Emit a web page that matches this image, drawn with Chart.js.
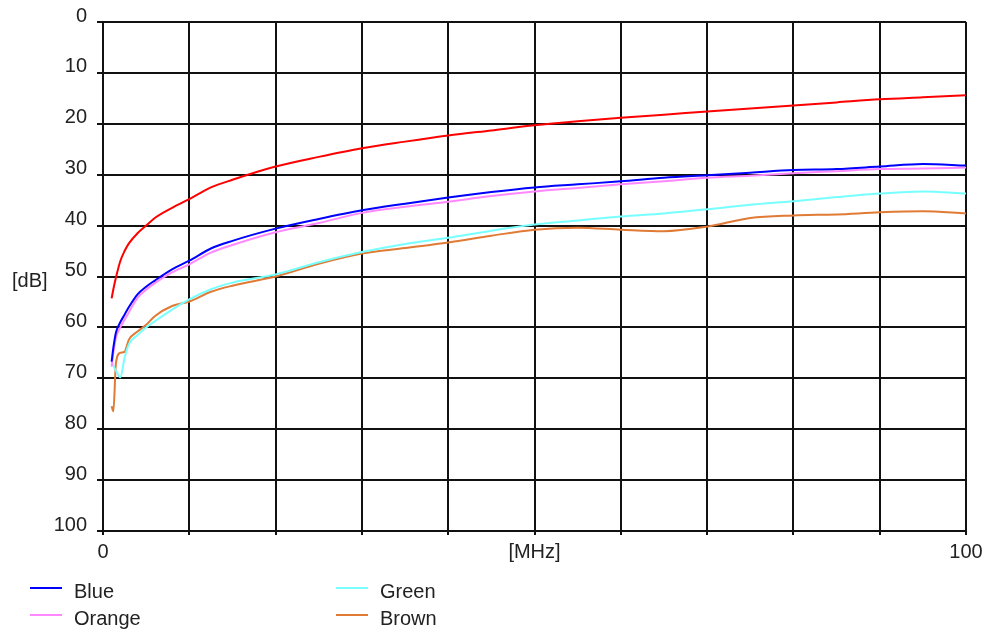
<!DOCTYPE html>
<html lang="en">
  <head>
    <meta charset="UTF-8" />
    <title>Attenuation [dB] vs [MHz]</title>
    <script src="https://cdn.jsdelivr.net/npm/chart.js"></script>
    <style>
      html, body { margin: 0; padding: 0; background: #fff; }
      #wrap { width: 998px; height: 637px; }
    </style>
  </head>
  <body>
    <div id="wrap"><canvas id="myChart"></canvas></div>

    <script>
      // frequency points in MHz
      const freq = [1, 1.2, 1.5, 2, 2.5, 3, 4, 5, 6, 8, 10, 12.5, 15, 20, 25, 30, 35, 40, 45, 50, 55, 60, 65, 70, 75, 80, 85, 90, 95, 100];

      // values in dB
      const red    = [54.3, 52.5, 50.2, 47.0, 45.0, 43.5, 41.5, 40.0, 38.5, 36.5, 34.8, 32.5, 31.0, 28.4, 26.5, 24.8, 23.5, 22.3, 21.3, 20.3, 19.5, 18.8, 18.2, 17.6, 17.0, 16.4, 15.8, 15.2, 14.8, 14.4];
      const blue   = [66.7, 64.0, 61.0, 59.0, 57.5, 56.0, 53.5, 52.0, 50.8, 48.6, 46.9, 44.5, 43.0, 40.6, 38.7, 37.0, 35.7, 34.5, 33.4, 32.5, 31.9, 31.3, 30.6, 30.1, 29.6, 29.1, 28.9, 28.4, 27.9, 28.2];
      const orange = [67.7, 65.0, 62.0, 60.0, 58.5, 57.0, 54.2, 52.6, 51.3, 49.2, 47.6, 45.3, 43.8, 41.3, 39.5, 37.5, 36.3, 35.3, 34.2, 33.3, 32.6, 31.9, 31.3, 30.6, 30.2, 29.7, 29.3, 28.9, 28.8, 28.6];
      const green  = [66.5, 67.5, 68.5, 69.8, 66.0, 63.3, 61.5, 60.0, 58.8, 56.5, 54.5, 52.5, 51.2, 49.6, 47.2, 45.2, 43.6, 42.4, 41.0, 39.8, 39.0, 38.2, 37.6, 36.8, 35.9, 35.2, 34.4, 33.7, 33.3, 33.7];
      const brown  = [75.5, 76.5, 67.0, 65.0, 64.8, 62.4, 60.8, 59.5, 57.8, 55.8, 54.9, 53.0, 51.8, 50.0, 47.5, 45.5, 44.4, 43.3, 42.0, 40.8, 40.4, 40.8, 41.1, 40.2, 38.5, 38.0, 37.8, 37.4, 37.2, 37.6];

      const xTickText = { 0: "0", 50: "[MHz]", 100: "100" };
      const FONT = "Liberation Sans, Arial, sans-serif";

      function pts(arr) {
        return freq.map((f, i) => ({ x: f, y: arr[i] }));
      }

      function series(label, values, color) {
        return {
          label: label,
          data: pts(values),
          borderColor: color,
          backgroundColor: color,
          borderWidth: 2,
          pointRadius: 0,
          cubicInterpolationMode: "monotone",
          fill: false,
        };
      }

      // legend in two columns, bottom left; plus the [dB] axis caption
      const extras = {
        id: "extras",
        afterDraw(chart) {
          const ctx = chart.ctx;
          ctx.save();
          ctx.font = "20px " + FONT;
          ctx.fillStyle = "#222";
          ctx.textBaseline = "middle";
          ctx.textAlign = "left";
          ctx.fillText("[dB]", 12, 281);

          const items = [
            { i: 1, x: 30, y: 588 },
            { i: 2, x: 30, y: 615 },
            { i: 3, x: 336, y: 588 },
            { i: 4, x: 336, y: 615 },
          ];
          items.forEach((it) => {
            const ds = chart.data.datasets[it.i];
            ctx.strokeStyle = ds.borderColor;
            ctx.lineWidth = 2;
            ctx.beginPath();
            ctx.moveTo(it.x, it.y);
            ctx.lineTo(it.x + 32, it.y);
            ctx.stroke();
            ctx.fillStyle = "#222";
            ctx.fillText(ds.label, it.x + 44, it.y + 4);
          });
          ctx.restore();
        },
      };

      const ctx = document.getElementById("myChart").getContext("2d");
      const myChart = new Chart(ctx, {
        type: "line",
        data: {
          datasets: [
            series("", red, "#ff0000"),
            series("Blue", blue, "#0000ff"),
            series("Orange", orange, "#ff88ff"),
            series("Green", green, "#77ffff"),
            series("Brown", brown, "#e07a35"),
          ],
        },
        options: {
          responsive: true,
          maintainAspectRatio: false,
          animation: false,
          layout: { padding: { left: 0, top: 22, right: 32, bottom: 66 } },
          plugins: {
            legend: { display: false },
            tooltip: { enabled: false },
          },
          scales: {
            x: {
              type: "linear",
              min: 0,
              max: 100,
              ticks: {
                stepSize: 10,
                autoSkip: false,
                maxRotation: 0,
                padding: 5,
                color: "#222",
                font: { family: FONT, size: 20 },
                callback: (v) => (xTickText[v] !== undefined ? xTickText[v] : ""),
              },
              grid: { color: "#111", lineWidth: 2, tickLength: 4 },
              border: { color: "#111", width: 2 },
              afterFit: (s) => { s.height = 40; },
            },
            y: {
              min: 0,
              max: 100,
              reverse: true,
              ticks: {
                stepSize: 10,
                padding: 10,
                labelOffset: -6,
                color: "#222",
                font: { family: FONT, size: 20 },
              },
              grid: { color: "#111", lineWidth: 2, tickLength: 6 },
              border: { color: "#111", width: 2 },
              afterFit: (s) => { s.width = 103; },
            },
          },
        },
        plugins: [extras],
      });
    </script>
  </body>
</html>
